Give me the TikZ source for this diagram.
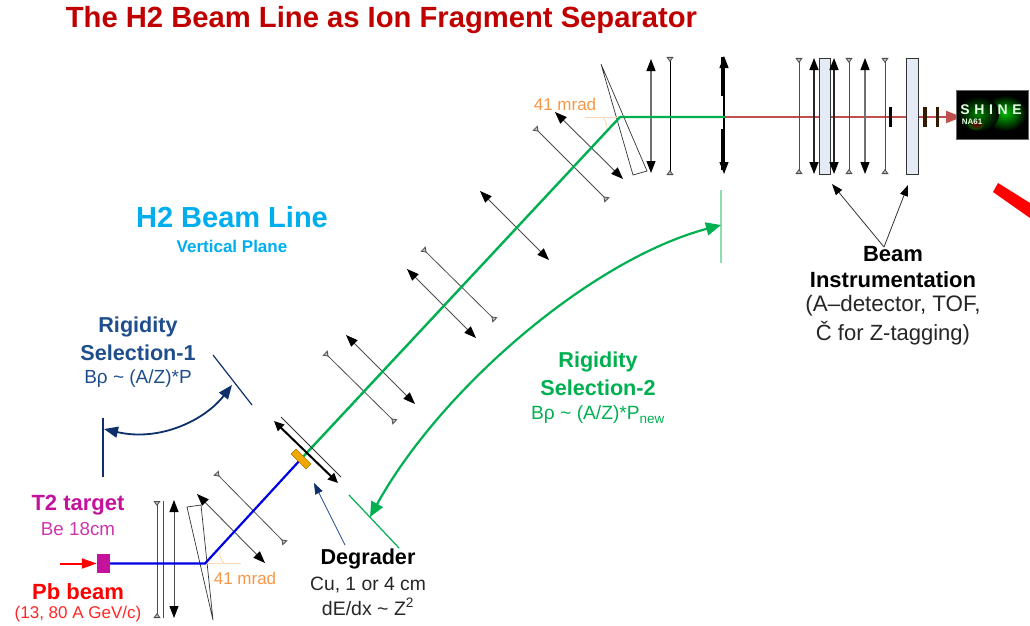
\documentclass[tikz,border=0pt]{standalone}
\usepackage{fontspec}
\setmainfont{Liberation Sans}
\usetikzlibrary{arrows.meta}
\definecolor{titlered}{HTML}{C00000}
\definecolor{h2cyan}{HTML}{00AEEF}
\definecolor{rignavy}{HTML}{1F4E8C}
\definecolor{arcnavy}{HTML}{0F2F6B}
\definecolor{tmag}{HTML}{C4129C}
\definecolor{rgreen}{HTML}{00B050}
\definecolor{lgreen}{HTML}{8FDDAF}
\definecolor{orng}{HTML}{F79646}
\definecolor{lorng}{HTML}{FBD5B5}
\definecolor{beamred}{HTML}{C0504D}
\definecolor{panel}{HTML}{E4EBF5}
\definecolor{lensgray}{HTML}{707070}
\definecolor{degcol}{HTML}{F0A800}
\newcommand{\fs}[1]{\fontsize{#1}{#1}\selectfont}
\tikzset{
  x=1pt,y=-1pt,
  lab/.style={inner sep=0pt,outer sep=0pt,align=center,anchor=center},
  foc/.style={line width=0.9pt,draw=black!70,{Triangle[length=12pt,width=9pt,black]}-{Triangle[length=12pt,width=9pt,black]}},
  focgray/.style={foc,line width=1.2pt,draw=lensgray},
  focdark/.style={foc,line width=1.5pt,draw=black!85},
  defoc/.style={line width=0.8pt,draw=black!70,{Triangle[reversed,length=5pt,width=7pt,black!70,fill=black!25]}-{Triangle[reversed,length=5pt,width=7pt,black!70,fill=black!25]}},
  wedge/.style={line width=0.7pt,draw=black!80},
  panelbox/.style={draw=black!80,line width=0.8pt,fill=panel},
  tick/.style={draw=black,line cap=butt},
  thinarrow/.style={line width=0.8pt,draw=black!80,-{Triangle[length=11pt,width=8pt,black]}},
  degbox/.style={fill=degcol,draw=degcol!70!black,line width=0.3pt,minimum width=21pt,minimum height=7pt,inner sep=0pt,rotate=-45},
}
\begin{document}
\begin{tikzpicture}
\useasboundingbox (0,0) rectangle (1030,626);
% Title
\node[lab,text=titlered] (title) at (381.5,20) {\fs{29.2}\bfseries The H2 Beam Line as Ion Fragment Separator};
\node[lab,text=h2cyan] (h2) at (232,217) {\fs{29}\bfseries H2 Beam Line};
\node[lab,text=h2cyan] (vp) at (232,246) {\fs{17}\bfseries Vertical Plane};
% ---- lenses lower part
\coordinate (l1a) at (157,501); \coordinate (l1b) at (157,618);
\coordinate (l2a) at (163,501); \coordinate (l2b) at (163,618);
\coordinate (l3a) at (174,500); \coordinate (l3b) at (174,618);
\draw[defoc] (l1a) -- (l1b);
\draw[line width=0.8pt,draw=black!70] (l2a) -- (l2b);
\draw[foc,line width=1pt] (l3a) -- (l3b);
\coordinate (w1a) at (187,507); \coordinate (w1b) at (201,505); \coordinate (w1c) at (213,620);
\draw[wedge] (w1a) -- (w1b) -- (w1c) -- cycle;
\coordinate (d1a) at (197,494); \coordinate (d1b) at (265,563);
\draw[foc] (d1a) -- (d1b);
\coordinate (d2a) at (216,473); \coordinate (d2b) at (285,543);
\draw[defoc] (d2a) -- (d2b);
% angle lower
\coordinate (ang1a) at (205,563); \coordinate (ang1b) at (241,563);
\draw[lorng,line width=0.8pt] (ang1a) -- (ang1b);
\draw[lorng,line width=0.8pt] (224,563) to[bend left=25] (220,551);
% lenses along the green beam
\coordinate (q1a) at (325,353); \coordinate (q1b) at (395,422);
\draw[defoc] (q1a) -- (q1b);
\coordinate (q2a) at (346,335); \coordinate (q2b) at (415,404);
\draw[foc] (q2a) -- (q2b);
\coordinate (q3a) at (407,269); \coordinate (q3b) at (476,338);
\draw[foc] (q3a) -- (q3b);
\coordinate (q4a) at (423,249); \coordinate (q4b) at (495,320);
\draw[defoc] (q4a) -- (q4b);
\coordinate (q5a) at (480,191); \coordinate (q5b) at (549,260);
\draw[foc] (q5a) -- (q5b);
\coordinate (q6a) at (535,128); \coordinate (q6b) at (607,200);
\draw[defoc] (q6a) -- (q6b);
\coordinate (q7a) at (555,112); \coordinate (q7b) at (623,179);
\draw[foc] (q7a) -- (q7b);
% upper wedge
\coordinate (w2a) at (601,64); \coordinate (w2b) at (647,171); \coordinate (w2c) at (633,175);
\draw[wedge] (w2a) -- (w2b) -- (w2c) -- cycle;
% angle upper
\coordinate (ang2a) at (585,117); \coordinate (ang2b) at (618,117);
\draw[lorng,line width=0.8pt] (ang2a) -- (ang2b);
\draw[lorng,line width=0.8pt] (602,117) to[bend left=25] (607,129);
% upper vertical lenses
\coordinate (u1a) at (651,59); \coordinate (u1b) at (651,173);
\draw[focgray] (u1a) -- (u1b);
\coordinate (u2a) at (670,57); \coordinate (u2b) at (670,175);
\draw[defoc,draw=black] (u2a) -- (u2b);
\coordinate (u3a) at (724,56); \coordinate (u3b) at (724,174);
\draw[foc,line width=1.2pt,draw=black] (u3a) -- (u3b);
\coordinate (u4a) at (722,57); \coordinate (u4b) at (722,96);
\coordinate (u5a) at (722,129); \coordinate (u5b) at (722,170);
\draw[tick,line width=3pt] (u4a) -- (u4b);
\draw[tick,line width=3pt] (u5a) -- (u5b);
% ---- beam
\coordinate (pbstart) at (60,563.5);
\node[fill=tmag,minimum width=13pt,minimum height=19pt,inner sep=0pt] (target) at (103.5,563.5) {};
\node[degbox] (degrader) at (301,459) {};
\coordinate (bend1) at (205,563.5);
\coordinate (bend2) at (620,117);
\coordinate (exit) at (726,117);
\coordinate (beamend) at (962,117);
\draw[red,line width=2pt,-{Triangle[length=15pt,width=10pt,red]}] (pbstart) -- (target.west);
\draw[blue!90!black,line width=2.2pt] (target.east) -- (bend1) -- (degrader.center);
\draw[rgreen,line width=2.4pt,line join=round] (degrader.center) -- (bend2) -- (exit);
\draw[beamred,line width=2.2pt,-{Triangle[length=16pt,width=12pt,beamred]}] (exit) -- (beamend);
% degrader double arrows
\coordinate (da) at (274,421); \coordinate (db) at (338,483);
\coordinate (ea) at (281,417); \coordinate (eb) at (341,477);
\draw[line width=0.8pt,draw=black!80] (ea) -- (eb);
\draw[black,line width=2pt,{Triangle[length=10pt,width=9pt]}-{Triangle[length=10pt,width=9pt]}] (da) -- (db);
\node[degbox] (degtop) at (degrader.center) {};
% degrader label + pointer
\node[lab] (deg1) at (368,559) {\fs{21.6}\bfseries Degrader};
\node[lab,text=black!85] (deg2) at (368,585) {\fs{19.3}Cu, 1 or 4 cm};
\node[lab,text=black!85] (deg3) at (368,607) {\fs{19.5}dE/dx \textasciitilde{} Z\textsuperscript{2}};
\coordinate (degptr) at (345,545); \coordinate (degtip) at (314,483);
\draw[rignavy,line width=0.7pt,-{Triangle[length=11pt,width=8pt,arcnavy]}] (degptr) -- (degtip);
% Rigidity 1
\coordinate (r1a) at (103,418); \coordinate (r1b) at (103,477);
\draw[arcnavy,line width=1.2pt] (r1a) -- (r1b);
\coordinate (r1c) at (213,355); \coordinate (r1d) at (252,405);
\draw[arcnavy,line width=1.2pt] (r1c) -- (r1d);
\coordinate (r1e) at (104,429); \coordinate (r1f) at (232,385);
\draw[arcnavy,line width=1.8pt,{Triangle[length=14pt,width=11pt]}-{Triangle[length=14pt,width=11pt]}] (r1e) .. controls (160,442) and (205,420) .. (r1f);
\node[lab,text=rignavy] (r1t) at (138,327) {\fs{21.6}\bfseries Rigidity};
\node[lab,text=rignavy] (r1u) at (138,353) {\fs{21.6}\bfseries Selection-1};
\node[lab,text=rignavy] (r1s) at (138,379) {\fs{19}Bρ \textasciitilde{} (A/Z)*P};
% Rigidity 2
\coordinate (r2a) at (721,190); \coordinate (r2b) at (721,263);
\draw[lgreen,line width=1.2pt] (r2a) -- (r2b);
\coordinate (r2c) at (349,495); \coordinate (r2d) at (399,548);
\draw[rgreen,line width=1.2pt] (r2c) -- (r2d);
\coordinate (r2e) at (721,225); \coordinate (r2f) at (370,517);
\draw[rgreen,line width=2.2pt,{Triangle[length=15pt,width=13pt]}-{Triangle[length=15pt,width=13pt]}] (r2e) .. controls (590,260) and (440,390) .. (r2f);
\node[lab,text=rgreen] (r2t) at (598,362) {\fs{21.6}\bfseries Rigidity};
\node[lab,text=rgreen] (r2u) at (598,388) {\fs{21.6}\bfseries Selection-2};
\node[lab,text=rgreen] (r2s) at (598,415) {\fs{19.2}Bρ \textasciitilde{} (A/Z)*P\textsubscript{new}};
% Labels lower-left
\node[lab,text=tmag] (t2) at (78,505) {\fs{22}\bfseries T2 target};
\node[lab,text=tmag!85] (be) at (78,529) {\fs{18.8}Be 18cm};
\node[lab,text=red] (pb) at (78,592) {\fs{22}\bfseries Pb beam};
\node[lab,text=red!85] (pb2) at (78,614) {\fs{17}(13, 80 A GeV/c)};
\node[lab,text=orng] (m1) at (245,578) {\fs{17}41 mrad};
\node[lab,text=orng] (m2) at (565,104) {\fs{17}41 mrad};
% ---- right part
\coordinate (v1a) at (799,58); \coordinate (v1b) at (799,174);
\draw[defoc] (v1a) -- (v1b);
\coordinate (v2a) at (814,58); \coordinate (v2b) at (814,174);
\draw[focdark] (v2a) -- (v2b);
\node[panelbox,minimum width=11pt,minimum height=116pt,inner sep=0pt] (det1) at (824.5,116) {};
\coordinate (v3a) at (834,58); \coordinate (v3b) at (834,174);
\draw[focdark] (v3a) -- (v3b);
\coordinate (v4a) at (849,58); \coordinate (v4b) at (849,174);
\draw[defoc] (v4a) -- (v4b);
\coordinate (v5a) at (865,58); \coordinate (v5b) at (865,174);
\draw[focgray] (v5a) -- (v5b);
\coordinate (v6a) at (885,58); \coordinate (v6b) at (885,174);
\draw[defoc] (v6a) -- (v6b);
\node[panelbox,minimum width=12pt,minimum height=116pt,inner sep=0pt] (det2) at (912,116) {};
\coordinate (t1a) at (890,107); \coordinate (t1b) at (890,127);
\draw[tick,line width=3pt] (t1a) -- (t1b);
\coordinate (t2a) at (925,107); \coordinate (t2b) at (925,127);
\draw[tick,line width=4pt,draw=black!80!orange] (t2a) -- (t2b);
\coordinate (t3a) at (937,107); \coordinate (t3b) at (937,127);
\draw[tick,line width=3pt,draw=black!80!orange] (t3a) -- (t3b);
% SHINE logo
\node[fill=black,draw=black!60,line width=0.5pt,minimum width=72pt,minimum height=49pt,inner sep=0pt] (logo) at (992,114.5) {};
\begin{scope}
\clip (logo.south west) rectangle (logo.north east);
\shade[inner color=green!75!black,outer color=black] (1005,113) ellipse (22 and 18);
\shade[inner color=green!50!black,outer color=black] (978,114) ellipse (21 and 18);
\shade[inner color=red!45!black,outer color=black!0!green!30!black] (976,124) ellipse (8 and 6);
\end{scope}
\node[lab,text=white!90!green] (shine) at (991,110) {\fs{14}\bfseries S\,\,H\,\,I\,\,N\,\,E};
\node[lab,text=white!90!green] (na) at (972,122) {\fs{8}\bfseries NA61};
% Beam instrumentation
\node[lab] (bi1) at (893,254) {\fs{22}\bfseries Beam};
\node[lab] (bi2) at (893,280) {\fs{22}\bfseries Instrumentation};
\node[lab,text=black!85] (bi3) at (893,306) {\fs{22.4}(A–detector, TOF,};
\node[lab,text=black!85] (bi4) at (893,333) {\fs{22}Č for Z-tagging)};
\coordinate (biroot) at (884,247);
\coordinate (bitipa) at (832,184);
\coordinate (bitipb) at (908,185);
\draw[thinarrow] (biroot) -- (bitipa);
\draw[thinarrow] (biroot) -- (bitipb);
% red slash
\fill[red] (998,183) -- (993,192) -- (1030,218) -- (1030,203) -- cycle;
\end{tikzpicture}
\end{document}
